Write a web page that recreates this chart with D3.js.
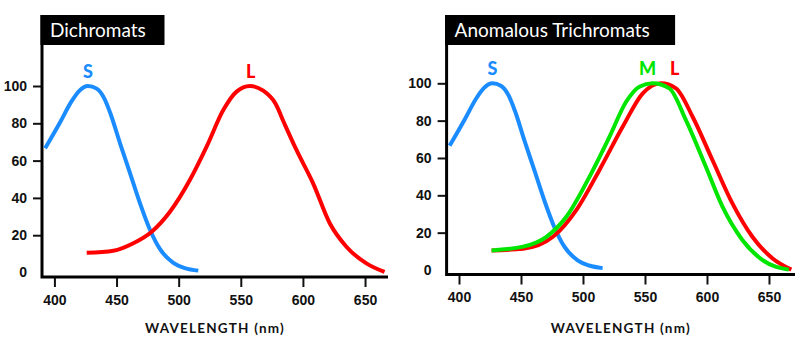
<!DOCTYPE html>
<html lang="en">
<head>
    <meta charset="UTF-8">
    <title>Dichromats vs Anomalous Trichromats</title>
    <script src="https://d3js.org/d3.v7.min.js"></script>
    <style>
        body { margin: 0; background: #fff; }
        svg { display: block; font-family: Lato, "Open Sans", sans-serif; }
        .tick text { font-size: 14px; font-weight: 700; fill: #111; }
        .tick line { stroke: #111; stroke-width: 2; }
        .axis-line { stroke: #000; stroke-width: 3; fill: none; }
        .curve { fill: none; stroke-width: 4; stroke-linecap: butt; }
        .title-text { fill: #fff; font-size: 19px; }
        .cone-label { font-size: 18px; font-weight: 900; text-anchor: middle; }
        .x-label { font-size: 13.5px; font-weight: 700; text-anchor: middle; fill: #111; letter-spacing: 1.2px; }
    </style>
</head>
<body>
<svg id="chart" width="800" height="358"></svg>
<script>
    // tick values
    const xTicks = [400, 450, 500, 550, 600, 650];
    const yTicks = [0, 20, 40, 60, 80, 100];

    // S cone (same in both panels)
    const sWave = [392.5, 404.6, 414, 420, 427, 434, 440, 445, 452.8, 460.9, 468.9, 477, 485, 495.7, 505, 515.8];
    const sVal  = [66.6, 80.6, 92, 97.4, 100, 98.6, 93.5, 85.4, 69.3, 53.2, 37.1, 22.8, 12.5, 5.2, 2.4, 1];

    // L cone, dichromat panel
    const lWave = [426, 447.4, 463.5, 478.3, 493, 509, 522.5, 535.9, 546.6, 557.3, 568, 578, 585, 594.8, 608.2, 621.6, 635, 651.1, 665.7];
    const lVal  = [10.6, 11.7, 15.7, 21.9, 32.6, 49.6, 67.5, 87.1, 97, 100, 97.5, 90.5, 80, 65.7, 47.8, 26.4, 13.8, 4.9, 0.3];

    // M cone, anomalous trichromat panel
    const mWave = [426.3, 451.7, 470.5, 486.6, 505.3, 521.4, 534.8, 545.5, 556.2, 569.6, 583, 599.1, 612.5, 628.5, 644.6, 666];
    const mVal  = [10.5, 12.5, 17.8, 28.5, 50, 71.4, 90.1, 98.2, 100, 97.3, 80.3, 55.3, 33.9, 16.1, 5.4, 0.2];

    // L cone, anomalous trichromat panel
    const l2Wave = [426.3, 451.7, 475.8, 494.6, 513.3, 532.1, 548.2, 563, 575, 588.4, 604.4, 620.5, 636.6, 652.7, 668];
    const l2Val  = [10.5, 11.4, 17.8, 32.1, 53.6, 76.8, 94.6, 100, 97.3, 82.1, 58.9, 35.7, 17.8, 6.3, 0.2];

    const BLUE = "#1a8cff", RED = "#ff0000", GREEN = "#00e600";

    const svg = d3.select("#chart");
    const zip = (xs, ys) => xs.map((x, i) => [x, ys[i]]);

    const panels = [
        {
            title: "Dichromats", titleW: 124,
            x0: 42, x1: 387.4, xEnd: 388, yZero: 272.5, yHundred: 86, xAxisY: 277,
            series: [
                { data: zip(sWave, sVal), color: BLUE },
                { data: zip(lWave, lVal), color: RED }
            ],
            labels: [
                { text: "S", wl: 427, color: BLUE },
                { text: "L", wl: 558, color: RED }
            ]
        },
        {
            title: "Anomalous Trichromats", titleW: 230,
            x0: 446.6, x1: 791.3, xEnd: 795, yZero: 270, yHundred: 83.3, xAxisY: 274.5,
            series: [
                { data: zip(sWave, sVal), color: BLUE },
                { data: zip(l2Wave, l2Val), color: RED },
                { data: zip(mWave, mVal), color: GREEN }
            ],
            labels: [
                { text: "S", wl: 427, color: BLUE },
                { text: "M", wl: 552, color: GREEN },
                { text: "L", wl: 574, color: RED }
            ]
        }
    ];

    panels.forEach(p => {
        const x = d3.scaleLinear().domain([390, 668]).range([p.x0, p.x1]);
        const y = d3.scaleLinear().domain([0, 100]).range([p.yZero, p.yHundred]);

        // title box
        svg.append("rect")
            .attr("x", p.x0 - 1.5).attr("y", 15)
            .attr("width", p.titleW).attr("height", 30)
            .attr("fill", "#000");
        svg.append("text")
            .attr("class", "title-text")
            .attr("x", p.x0 + 8).attr("y", 37)
            .text(p.title);

        // y axis
        const yAxis = svg.append("g")
            .attr("transform", `translate(${p.x0},0)`)
            .call(d3.axisLeft(y).tickValues(yTicks).tickSize(9).tickSizeOuter(0).tickPadding(6));
        yAxis.select(".domain").remove();
        yAxis.selectAll(".tick").filter(d => d === 0).select("line").remove();

        // x axis
        const xAxis = svg.append("g")
            .attr("transform", `translate(0,${p.xAxisY})`)
            .call(d3.axisBottom(x).tickValues(xTicks).tickSize(10).tickSizeOuter(0).tickPadding(5));
        xAxis.select(".domain").remove();
        xAxis.selectAll("text").attr("dy", "0.9em");

        // axis lines
        svg.append("path")
            .attr("class", "axis-line")
            .attr("d", `M${p.x0},15 V${p.xAxisY} H${p.xEnd}`);

        // curves
        const line = d3.line()
            .x(d => x(d[0]))
            .y(d => y(d[1]))
            .curve(d3.curveMonotoneX);
        p.series.forEach(s => {
            svg.append("path")
                .attr("class", "curve")
                .attr("stroke", s.color)
                .attr("d", line(s.data));
        });

        // cone labels
        p.labels.forEach(l => {
            svg.append("text")
                .attr("class", "cone-label")
                .attr("x", x(l.wl))
                .attr("y", y(100) - 8)
                .attr("fill", l.color)
                .text(l.text);
        });

        svg.append("text")
            .attr("class", "x-label")
            .attr("x", (p.x0 + p.xEnd) / 2)
            .attr("y", 333)
            .text("WAVELENGTH (nm)");
    });
</script>
</body>
</html>
